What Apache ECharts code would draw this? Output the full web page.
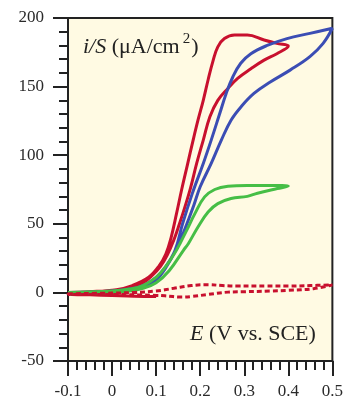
<!DOCTYPE html>
<html><head><meta charset="utf-8">
<script src="https://cdn.jsdelivr.net/npm/echarts@6/dist/echarts.min.js"></script>
<style>html,body{margin:0;padding:0;background:#fff}#c{width:346px;height:400px}</style>
</head><body><div id="c"></div>
<script>
// x ticks (V vs. SCE) and y ticks (uA/cm2)
const xTicks = [-0.1, 0, 0.1, 0.2, 0.3, 0.4, 0.5];
const yTicks = [-50, 0, 50, 100, 150, 200];
// Red solid CV loop [E, i/S]
const redSolid = [
 [0.1,-3],[0.05,-2.8],[0,-2.3],[-0.05,-1.8],[-0.1,-1.2],
 [-0.05,0],[0,1.5],[0.04,3.5],[0.07,7],[0.09,12],[0.11,19],[0.125,27],[0.14,38],[0.153,50],[0.165,62],
 [0.178,76],[0.192,94],[0.207,111],[0.222,128],[0.24,140],[0.263,148.7],[0.285,156],[0.315,163],
 [0.345,169.3],[0.374,174],[0.40,179.6],
 [0.374,181.5],[0.345,184],[0.307,187.6],[0.278,187.6],[0.255,185],[0.24,179],[0.229,168.6],[0.218,155],
 [0.207,140],[0.195,125.5],[0.184,111],[0.171,93],[0.158,75],[0.146,57],[0.134,40],[0.122,28],[0.106,19],
 [0.083,11],[0.046,5],[0.01,2],[-0.05,0.5],[-0.1,0]
];
// Blue solid CV loop
const blueSolid = [
 [-0.1,-1],[0,0.5],[0.05,2],[0.08,5],[0.1,9],[0.12,17],[0.145,31],[0.165,46],[0.185,63],[0.2,77],
 [0.225,94],[0.248,111],[0.27,125.5],[0.292,135],[0.322,145],[0.36,153.5],[0.404,162],[0.449,171.8],
 [0.479,181.5],[0.5,192.5],
 [0.449,188.8],[0.397,185],[0.352,180],[0.315,174],[0.292,167],[0.274,157],[0.259,145],[0.244,130],
 [0.225,111],[0.207,94],[0.182,72],[0.16,50],[0.143,30.7],[0.12,18],[0.1,11],[0.07,5],[0.03,2],
 [-0.03,0.5],[-0.1,0]
];
// Green solid CV loop
const greenSolid = [
 [-0.1,-1],[-0.05,-0.5],[0,0],[0.04,1],[0.07,3],[0.1,7],[0.13,16],[0.162,30.7],[0.173,35.5],[0.195,47.7],
 [0.218,58.6],[0.24,64.7],[0.27,68.4],[0.307,70],[0.33,72.3],[0.375,75.7],[0.4,77.5],
 [0.36,78],[0.307,78],[0.263,77.4],[0.233,75],[0.21,69.6],[0.188,57.4],[0.169,45],[0.154,35.5],
 [0.146,30.7],[0.12,18],[0.1,11],[0.07,5],[0.04,2.5],[0,1],[-0.1,0]
];
// Red dashed (background) CV loop
const redDashed = [
 [-0.1,-1],[0,-0.5],[0.05,0],[0.1,1],[0.14,3],[0.18,5],[0.218,5.6],[0.25,5],[0.285,4.6],[0.35,4.6],
 [0.4,4.6],[0.45,5],[0.5,5.5],
 [0.457,2.7],[0.4,1.5],[0.359,1],[0.3,0.5],[0.263,0.2],[0.218,-1.5],[0.18,-3],[0.157,-3.4],[0.12,-2.5],
 [0.1,-2.2],[0,-1.5],[-0.1,-1.5]
];
const RED = '#c8102e', BLUE = '#3b4db4', GREEN = '#46be46';
const serif = 'Liberation Serif';
const chart = echarts.init(document.getElementById('c'), null, {renderer:'canvas'});
function line(data, color, dashed) {
  return {type:'line', data, showSymbol:false, smooth:0.4, animation:false,
    lineStyle:{color, width:3, type: dashed?[5,3]:'solid', cap:'butt'}};
}
chart.setOption({
  animation:false,
  backgroundColor:'#fff',
  grid:{left:68, right:10, top:18, bottom:38, show:true, backgroundColor:'#fffae3',
        borderColor:'#222', borderWidth:2},
  xAxis:{type:'value', min:xTicks[0], max:xTicks[xTicks.length-1], interval:0.1,
    axisLine:{show:true, onZero:false, lineStyle:{color:'#222', width:2}},
    axisTick:{show:true, inside:false, length:15, lineStyle:{color:'#222', width:2}},
    minorTick:{show:true, splitNumber:5, length:9, lineStyle:{color:'#222', width:2}},
    splitLine:{show:false},
    axisLabel:{margin:22, color:'#2a2a2a', fontFamily:serif, fontSize:17,
      formatter:v=>{const r=Math.round(v*10)/10; return r===0?'0':r.toFixed(1);}}
  },
  yAxis:{type:'value', min:yTicks[0], max:yTicks[yTicks.length-1], interval:50,
    axisLine:{show:true, onZero:false, lineStyle:{color:'#222', width:2}},
    axisTick:{show:true, inside:false, length:15, lineStyle:{color:'#222', width:2}},
    minorTick:{show:true, splitNumber:5, length:9, lineStyle:{color:'#222', width:2}},
    splitLine:{show:false},
    axisLabel:{margin:24, color:'#2a2a2a', fontFamily:serif, fontSize:17}
  },
  graphic:[
    {type:'text', left:83, top:32, style:{
      text:'{it|i/S} {n|(μA/cm}{s|2}{n|)}',
      rich:{
        it:{fontFamily:serif, fontStyle:'italic', fontSize:22, fill:'#222', lineHeight:26, verticalAlign:'bottom'},
        n:{fontFamily:serif, fontSize:22, fill:'#222', lineHeight:26, verticalAlign:'bottom'},
        s:{fontFamily:serif, fontSize:15, fill:'#222', lineHeight:26, verticalAlign:'top', padding:[0,1,0,3]}
      }, fontFamily:serif, fontSize:22}},
    {type:'text', left:190, top:323, style:{
      text:'{it|E} {n|(V vs. SCE)}',
      rich:{
        it:{fontFamily:serif, fontStyle:'italic', fontSize:22, fill:'#222'},
        n:{fontFamily:serif, fontSize:22, fill:'#222'}
      }, fontFamily:serif, fontSize:22}}
  ],
  series:[
    line(redSolid, RED, false),
    line(blueSolid, BLUE, false),
    line(greenSolid, GREEN, false),
    line(redDashed, RED, true)
  ]
});
</script></body></html>
